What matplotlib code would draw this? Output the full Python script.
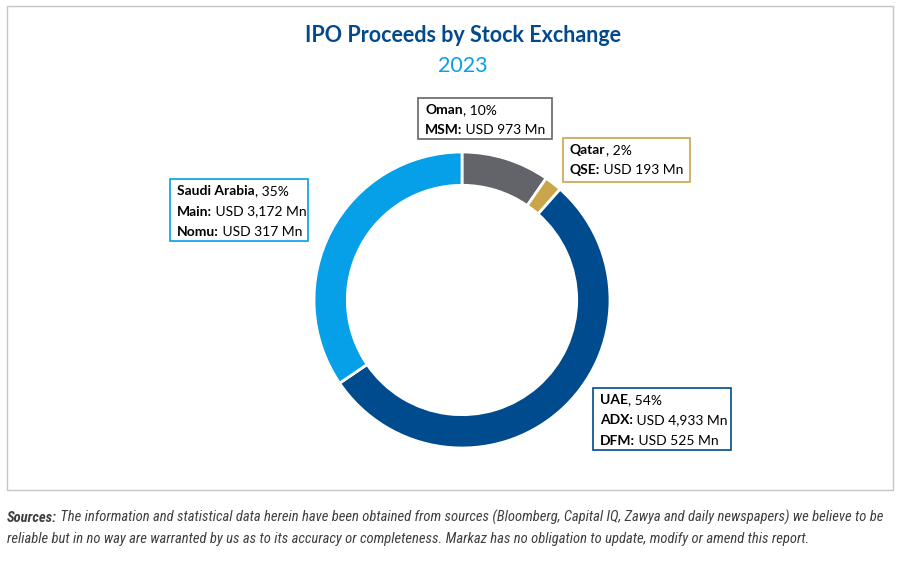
import matplotlib
matplotlib.use("Agg")
import matplotlib.pyplot as plt
from matplotlib.patches import Rectangle
from matplotlib import font_manager as fm

# ---- data ----
regions = ["Oman", "Qatar", "UAE", "Saudi Arabia"]
share_pct = [10, 2, 54, 35]
exchanges = [["MSM"], ["QSE"], ["ADX", "DFM"], ["Main", "Nomu"]]
exchange_usd_mn = [[973], [193], [4933, 525], [3172, 317]]
colors = ["#636469", "#c9a64a", "#004b8d", "#05a0e8"]

title = "IPO Proceeds by Stock Exchange"
subtitle = "2023"
source_bold = "Sources:"
source_line1 = " The information and statistical data herein have been obtained from sources (Bloomberg, Capital IQ, Zawya and daily newspapers) we believe to be"
source_line2 = "reliable but in no way are warranted by us as to its accuracy or completeness. Markaz has no obligation to update, modify or amend this report."

W, H = 900, 563
fig = plt.figure(figsize=(W / 100, H / 100), dpi=100)
fig.patch.set_facecolor("white")

def fx(x):
    return x / W

def fy(y):
    return 1 - y / H

available = {f.name for f in fm.fontManager.ttflist}
FONT = "Lato" if "Lato" in available else "DejaVu Sans"
NARROW = None
for cand in ["Liberation Sans Narrow", "Roboto Condensed", "DejaVu Sans Condensed", "Lato"]:
    if cand in available:
        NARROW = cand
        break

# chart frame
fig.patches.append(Rectangle((fx(7), fy(490)), fx(886), 484 / H, transform=fig.transFigure,
                             fill=False, edgecolor="#c6c6c6", linewidth=1.0))

# donut
cx, cy, r = 462, 300, 148
ax = fig.add_axes([fx(cx - r), fy(cy + r), 2 * r / W, 2 * r / H])
values = [sum(v) for v in exchange_usd_mn]
ax.pie(values, colors=colors, startangle=90, counterclock=False, radius=1.0,
       wedgeprops=dict(width=0.225, edgecolor="white", linewidth=2))
ax.set_xlim(-1.0, 1.0)
ax.set_ylim(-1.0, 1.0)
ax.set_aspect("equal")
ax.axis("off")

# titles
fig.text(fx(463), fy(36), title, ha="center", va="center", fontsize=15.5,
         fontweight="bold", color="#034a8c", family=FONT)
fig.text(fx(463), fy(66), subtitle, ha="center", va="center", fontsize=15.5,
         color="#0a9fe6", family=FONT)

def mixed(x, y, bold, regular, size=10.0, color="black", family=FONT, style="normal"):
    t1 = fig.text(fx(x), fy(y), bold, ha="left", va="baseline", fontsize=size,
                  fontweight="bold", color=color, family=family, style=style)
    t2 = fig.text(0, 0, regular, ha="left", va="baseline", fontsize=size,
                  color=color, family=family, style=style)
    fig.canvas.draw()
    bb = t1.get_window_extent()
    t2.set_position((bb.x1 / W, fy(y)))
    return t1, t2

# label boxes: (left, top, right, bottom) in px
boxes = [(418, 98, 552, 139), (563, 138, 690, 182), (593, 388, 731, 450), (170, 179, 308, 241)]
for i, region in enumerate(regions):
    l, t, rr, b = boxes[i]
    fig.patches.append(Rectangle((fx(l), fy(b)), (rr - l) / W, (b - t) / H,
                                 transform=fig.transFigure, fill=True, facecolor="white",
                                 edgecolor=colors[i], linewidth=1.2))
    base = t + 16
    mixed(l + 7, base, region, f", {share_pct[i]}%")
    for j, ex in enumerate(exchanges[i]):
        mixed(l + 7, base + 20.5 * (j + 1), ex + ":", f" USD {exchange_usd_mn[i][j]:,} Mn")

# footer: fit first line to the reference width
fcol = "#3f3f3f"
fsize = 9.5
t1, t2 = mixed(7, 522, source_bold, source_line1, size=fsize, color=fcol, family=NARROW, style="italic")
fig.canvas.draw()
width = t2.get_window_extent().x1 - t1.get_window_extent().x0
fsize = fsize * 877 / width
t1.remove(); t2.remove()
mixed(7, 522, source_bold, source_line1, size=fsize, color=fcol, family=NARROW, style="italic")
fig.text(fx(7), fy(543), source_line2, ha="left", va="baseline", fontsize=fsize,
         color=fcol, family=NARROW, style="italic")

fig.savefig("out.png", dpi=100, facecolor="white")
